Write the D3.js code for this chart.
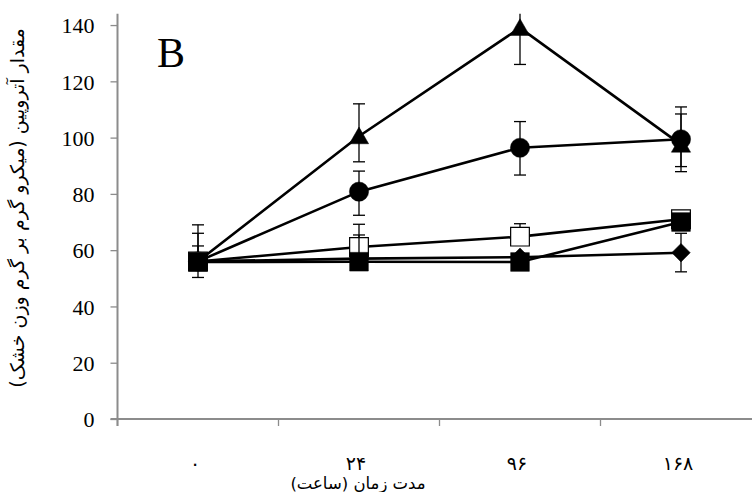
<!DOCTYPE html>
<html>
<head>
<meta charset="utf-8">
<script src="https://cdn.jsdelivr.net/npm/d3@7"></script>
<style>
  body { margin: 0; background: #fff; }
  svg { display: block; }
  .tick-label { font-family: "Liberation Serif", "DejaVu Serif", serif; font-size: 22px; fill: #000; }
  .fa { font-family: "DejaVu Sans", sans-serif; fill: #000; }
</style>
</head>
<body>
<svg id="chart" width="752" height="492"></svg>
<script>
// categories (hours) and y ticks
const times = ["۰", "۲۴", "۹۶", "۱۶۸"];
const yTicks = [0, 20, 40, 60, 80, 100, 120, 140];

// series values
const triangleVals = [56, 100.5, 139, 97.5];
const triangleHi   = [69, 112, 152, 110.9];
const triangleLo   = [56, 91.4, 126, 89.7];

const circleVals = [56, 80.8, 96.4, 99.4];
const circleHi   = [66, 88.1, 105.7, 108.4];
const circleLo   = [56, 72.4, 86.7, 87.9];

const openSqVals = [56, 61.1, 64.8, 71];
const openSqHi   = [61.5, 65.4, 69.4, 71];
const openSqLo   = [50.3, 61.1, 64.8, 71];

const diamondVals = [56, 57, 57.5, 59.1];
const diamondHi   = [56, 57, 57.5, 66];
const diamondLo   = [56, 57, 57.5, 52.3];

const filledSqVals = [55.8, 55.9, 55.8, 70];
const filledSqHi   = [55.8, 69.2, 55.8, 70];
const filledSqLo   = [55.8, 55.9, 55.8, 70];

const AXIS_X = 117.5, AXIS_Y = 419;
const BAND = 161;

const svg = d3.select("#chart");

const x = d3.scaleBand().domain(times).range([AXIS_X, AXIS_X + BAND * times.length]).padding(0);
const y = d3.scaleLinear().domain([0, 144]).range([AXIS_Y, 13.8]);

// axes
const axisColor = "#8c8c8c";
const yAxis = svg.append("g")
  .attr("transform", `translate(${AXIS_X},0)`)
  .call(d3.axisLeft(y).tickValues(yTicks).tickSize(7).tickSizeOuter(0).tickFormat(d3.format("d")));
yAxis.select(".domain").attr("stroke", axisColor).attr("stroke-width", 2)
  .attr("d", `M0,${y(144)}V${AXIS_Y + 7}`);
yAxis.selectAll(".tick line").attr("stroke", axisColor).attr("stroke-width", 1.3);
yAxis.selectAll(".tick text").attr("class", "tick-label").attr("x", -23).attr("dy", "0.35em");

const xAxis = svg.append("g").attr("transform", `translate(0,${AXIS_Y})`);
xAxis.append("line").attr("x1", AXIS_X - 7).attr("x2", 752).attr("y1", 0).attr("y2", 0)
  .attr("stroke", axisColor).attr("stroke-width", 2);
xAxis.selectAll("line.tk").data(times).join("line").attr("class", "tk")
  .attr("x1", d => x(d)).attr("x2", d => x(d)).attr("y1", 0).attr("y2", 7)
  .attr("stroke", axisColor).attr("stroke-width", 1.3);
xAxis.selectAll("text").data(times).join("text")
  .attr("class", "fa")
  .attr("x", d => x(d) + x.bandwidth() / 2 - 3)
  .attr("y", 51)
  .attr("text-anchor", "middle")
  .attr("font-size", 19)
  .text(d => d);

// axis titles
svg.append("text").attr("class", "fa")
  .attr("x", 358).attr("y", 489)
  .attr("text-anchor", "middle").attr("font-size", 16.5)
  .attr("direction", "rtl")
  .text("مدت زمان (ساعت)");

svg.append("text").attr("class", "fa")
  .attr("transform", "translate(24,208) rotate(-90)")
  .attr("text-anchor", "middle").attr("font-size", 19)
  .attr("direction", "rtl")
  .text("مقدار آتروپین (میکرو گرم بر گرم وزن خشک)");

// panel letter
svg.append("text")
  .attr("x", 157).attr("y", 67)
  .attr("font-family", "Liberation Serif, serif").attr("font-size", 42)
  .text("B");

const cx = d => x(d) + x.bandwidth() / 2;
const plot = svg.append("g");

const sym = {
  triangle: d3.symbol().type(d3.symbolTriangle).size(160),
  circle: d3.symbol().type(d3.symbolCircle).size(290),
  square: d3.symbol().type(d3.symbolSquare).size(350),
  diamond: d3.symbol().type(d3.symbolSquare).size(170)
};

const series = [
  { name: "triangle", vals: triangleVals, hi: triangleHi, lo: triangleLo, shape: "triangle", fill: "#000" },
  { name: "circle", vals: circleVals, hi: circleHi, lo: circleLo, shape: "circle", fill: "#000" },
  { name: "diamond", vals: diamondVals, hi: diamondHi, lo: diamondLo, shape: "diamond", fill: "#000" },
  { name: "openSq", vals: openSqVals, hi: openSqHi, lo: openSqLo, shape: "square", fill: "#fff" },
  { name: "filledSq", vals: filledSqVals, hi: filledSqHi, lo: filledSqLo, shape: "square", fill: "#000" }
];

const line = d3.line().x(d => cx(d.t)).y(d => y(d.v));

series.forEach(s => {
  const pts = times.map((t, i) => ({ t, v: s.vals[i], hi: s.hi[i], lo: s.lo[i] }));
  const g = plot.append("g").attr("class", s.name);

  // error bars (clipped at top of plot)
  pts.forEach(p => {
    const top = Math.max(y(p.hi), y(144));
    if (p.hi > p.v) {
      g.append("line").attr("x1", cx(p.t)).attr("x2", cx(p.t)).attr("y1", y(p.v)).attr("y2", top)
        .attr("stroke", "#000").attr("stroke-width", 1.3);
      if (p.hi <= 144) g.append("line").attr("x1", cx(p.t) - 6).attr("x2", cx(p.t) + 6)
        .attr("y1", y(p.hi)).attr("y2", y(p.hi)).attr("stroke", "#000").attr("stroke-width", 1.3);
    }
    if (p.lo < p.v) {
      g.append("line").attr("x1", cx(p.t)).attr("x2", cx(p.t)).attr("y1", y(p.v)).attr("y2", y(p.lo))
        .attr("stroke", "#000").attr("stroke-width", 1.3);
      g.append("line").attr("x1", cx(p.t) - 6).attr("x2", cx(p.t) + 6)
        .attr("y1", y(p.lo)).attr("y2", y(p.lo)).attr("stroke", "#000").attr("stroke-width", 1.3);
    }
  });

  g.append("path").datum(pts).attr("d", line)
    .attr("fill", "none").attr("stroke", "#000").attr("stroke-width", 2.6);

  g.selectAll("path.mk").data(pts).join("path").attr("class", "mk")
    .attr("d", sym[s.shape])
    .attr("transform", d => `translate(${cx(d.t)},${y(d.v) + (s.shape === "triangle" ? 2 : 0)})` +
      (s.shape === "diamond" ? " rotate(45)" : ""))
    .attr("fill", s.fill)
    .attr("stroke", "#000").attr("stroke-width", s.fill === "#fff" ? 1.2 : 0.5);
});
</script>
</body>
</html>
